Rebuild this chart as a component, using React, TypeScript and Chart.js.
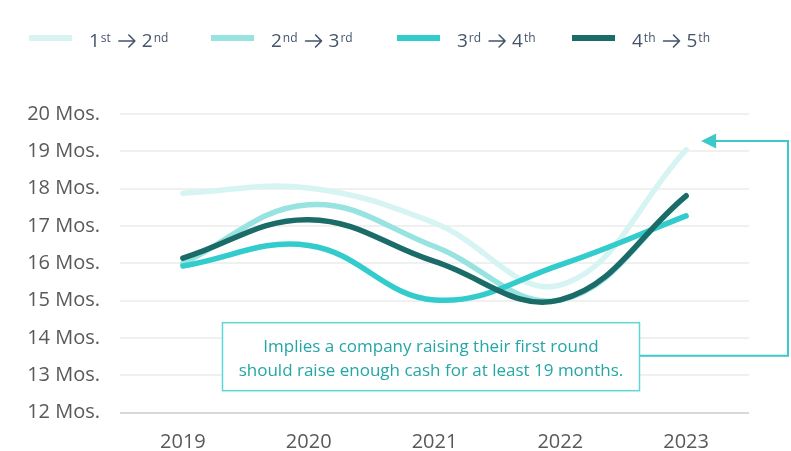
import React, { useEffect, useRef } from "react";
import { Chart, registerables } from "chart.js";

Chart.register(...registerables);

const years = ["2019", "2020", "2021", "2022", "2023"];
const seriesLabels = ["1st → 2nd", "2nd → 3rd", "3rd → 4th", "4th → 5th"];
const firstToSecond = [17.88, 18.02, 17.08, 15.42, 19.04];
const secondToThird = [16.0, 17.57, 16.45, 15.02, 17.8];
const thirdToFourth = [15.93, 16.48, 15.02, 15.96, 17.27];
const fourthToFifth = [16.14, 17.17, 16.05, 15.02, 17.81];
const seriesColors = ["#d6f4f2", "#97e3e0", "#33cccc", "#1b6b69"];
const yTickValues = [12, 13, 14, 15, 16, 17, 18, 19, 20];
const noteLines = [
  "Implies a company raising their first round",
  "should raise enough cash for at least 19 months.",
];

const FONT = '"Open Sans", "Noto Sans", sans-serif';

const legendPlugin = {
  id: "supLegend",
  afterDraw(chart: any) {
    const ctx = chart.ctx;
    const datasets = chart.data.datasets;
    const starts = [29, 211, 397, 572];
    const y = 38;
    const color = "#44546a";
    ctx.save();
    ctx.textBaseline = "alphabetic";
    datasets.forEach((ds: any, i: number) => {
      let x = starts[i];
      ctx.fillStyle = ds.borderColor;
      ctx.fillRect(x, y - 3, 43, 6);
      x += 43 + 17;
      const parts = (ds.label as string).match(/\d+|[a-z]+|→/g) || [];
      parts.forEach((p: string) => {
        if (p === "→") {
          x += 8;
          const ay = y + 3;
          ctx.strokeStyle = color;
          ctx.lineWidth = 1.6;
          ctx.lineCap = "round";
          ctx.lineJoin = "round";
          ctx.beginPath();
          ctx.moveTo(x, ay);
          ctx.lineTo(x + 16, ay);
          ctx.moveTo(x + 10, ay - 6);
          ctx.lineTo(x + 16, ay);
          ctx.lineTo(x + 10, ay + 6);
          ctx.stroke();
          x += 16 + 7;
          return;
        }
        const sup = /^[a-z]+$/.test(p);
        ctx.font = sup ? `12px ${FONT}` : `19px ${FONT}`;
        ctx.fillStyle = color;
        ctx.fillText(p, x, sup ? y + 3.5 : y + 8.5);
        x += ctx.measureText(p).width + (sup ? 0 : 1);
      });
    });
    ctx.restore();
  },
};

const notePlugin = {
  id: "note",
  afterDraw(chart: any) {
    const ctx = chart.ctx;
    const xs = chart.scales.x;
    const ys = chart.scales.y;
    const cx = xs.getPixelForValue(2) - 3.5;
    const cy = ys.getPixelForValue(13.5);
    const w = 417;
    const h = 68;
    const left = cx - w / 2;
    const top = cy - h / 2;
    ctx.save();
    const startX = left + w;
    const startY = cy - 1;
    const farX = chart.chartArea.right + 39;
    const arrowY = ys.getPixelForValue(19.28);
    const tipX = xs.getPixelForValue(4) + 15;
    ctx.strokeStyle = "#3cc9c9";
    ctx.lineWidth = 2;
    ctx.beginPath();
    ctx.moveTo(startX, startY);
    ctx.lineTo(farX, startY);
    ctx.lineTo(farX, arrowY);
    ctx.lineTo(tipX + 12, arrowY);
    ctx.stroke();
    ctx.fillStyle = "#3cc9c9";
    ctx.beginPath();
    ctx.moveTo(tipX, arrowY);
    ctx.lineTo(tipX + 15, arrowY - 7.5);
    ctx.lineTo(tipX + 15, arrowY + 7.5);
    ctx.closePath();
    ctx.fill();
    ctx.fillStyle = "#ffffff";
    ctx.fillRect(left, top, w, h);
    ctx.strokeStyle = "#5ed6d6";
    ctx.lineWidth = 1.5;
    ctx.strokeRect(left, top, w, h);
    ctx.fillStyle = "#24a6a6";
    ctx.font = `17px ${FONT}`;
    ctx.textAlign = "center";
    ctx.textBaseline = "middle";
    noteLines.forEach((line, i) => {
      ctx.fillText(line, cx, cy - 10 + i * 24);
    });
    ctx.restore();
  },
};

export default function App() {
  const ref = useRef<HTMLCanvasElement>(null);
  useEffect(() => {
    document.body.style.margin = "0";
    const values = [firstToSecond, secondToThird, thirdToFourth, fourthToFifth];
    const chart = new Chart(ref.current!, {
      type: "line",
      data: {
        labels: years,
        datasets: values.map((v, i) => ({
          label: seriesLabels[i],
          data: v,
          borderColor: seriesColors[i],
          backgroundColor: seriesColors[i],
          borderWidth: 5.5,
          borderCapStyle: "round",
          borderJoinStyle: "round",
          pointRadius: 0,
          tension: 0.4,
          fill: false,
          order: values.length - 1 - i,
        })),
      },
      options: {
        responsive: false,
        animation: false,
        layout: { padding: { top: 114, right: 42, left: 0, bottom: 0 } },
        plugins: {
          legend: { display: false },
          tooltip: { enabled: false },
        },
        scales: {
          x: {
            offset: true,
            grid: { display: false },
            border: { display: false },
            ticks: {
              color: "#595959",
              font: { size: 20, family: FONT },
              padding: 10,
            },
            afterFit(scale: any) {
              scale.height = 38.3;
            },
          },
          y: {
            min: 12,
            max: 20,
            afterBuildTicks(scale: any) {
              scale.ticks = yTickValues.map((v) => ({ value: v }));
            },
            grid: {
              drawTicks: false,
              lineWidth: 2,
              color: (c: any) => (c.tick && c.tick.value === 12 ? "#d9d9d9" : "#f0f0f0"),
            },
            border: { display: false },
            ticks: {
              color: "#595959",
              font: { size: 20, family: FONT },
              padding: 20,
              callback: (v: any) => `${v} Mos.`,
            },
            afterFit(scale: any) {
              scale.width = 120;
            },
          },
        },
      },
      plugins: [legendPlugin, notePlugin],
    } as any);
    return () => chart.destroy();
  }, []);
  return (
    <div style={{ width: 791, height: 451 }}>
      <canvas ref={ref} width={791} height={451} />
    </div>
  );
}
